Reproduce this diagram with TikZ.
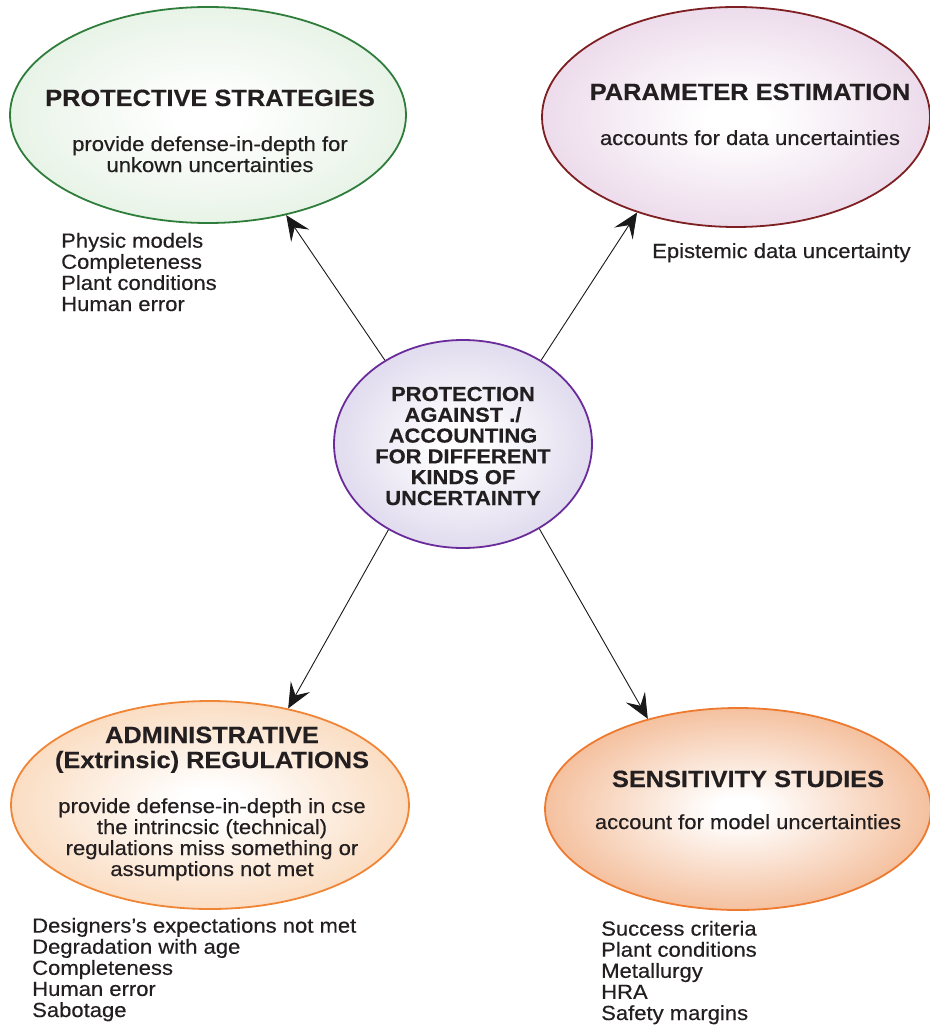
\documentclass[tikz,border=0pt]{standalone}
\usepackage{fontspec}
\setmainfont{Liberation Sans}[FakeStretch=1.08, UprightFeatures={FakeBold=0.35}, BoldFeatures={FakeBold=0.4}]
\usetikzlibrary{shapes.geometric,arrows.meta}
\definecolor{txt}{HTML}{231F20}
\definecolor{psfill}{HTML}{D8EBD6}
\definecolor{psline}{HTML}{2E7D3B}
\definecolor{pefill}{HTML}{E0C3DE}
\definecolor{peline}{HTML}{7E1F22}
\definecolor{cfill}{HTML}{CBC2E2}
\definecolor{cline}{HTML}{6A2C9A}
\definecolor{arfill}{HTML}{F7C598}
\definecolor{arline}{HTML}{F08536}
\definecolor{ssfill}{HTML}{EE9C66}
\definecolor{ssline}{HTML}{EE7A30}
\pgfdeclareradialshading{shps}{\pgfpoint{0bp}{0bp}}{color(0bp)=(white); color(4bp)=(white); color(40bp)=(psfill); color(50bp)=(psfill)}
\pgfdeclareradialshading{shpe}{\pgfpoint{0bp}{0bp}}{color(0bp)=(white); color(4bp)=(white); color(40bp)=(pefill); color(50bp)=(pefill)}
\pgfdeclareradialshading{shc}{\pgfpoint{0bp}{0bp}}{color(0bp)=(white); color(4bp)=(white); color(40bp)=(cfill); color(50bp)=(cfill)}
\pgfdeclareradialshading{shar}{\pgfpoint{0bp}{0bp}}{color(0bp)=(white); color(4bp)=(white); color(40bp)=(arfill); color(50bp)=(arfill)}
\pgfdeclareradialshading{shss}{\pgfpoint{0bp}{0bp}}{color(0bp)=(white); color(3bp)=(white); color(38bp)=(ssfill); color(50bp)=(ssfill)}
\tikzset{
  ell/.style={ellipse, inner sep=0pt, line width=1.8pt},
  ttl/.style={font=\bfseries\fontsize{23.5}{25}\selectfont, text=txt, align=center, anchor=base, inner sep=0pt},
  ctxt/.style={font=\bfseries\fontsize{20.3}{20.8}\selectfont, text=txt, align=center, anchor=base, inner sep=0pt},
  body/.style={font=\fontsize{20.4}{21}\selectfont, text=txt, align=center, anchor=base, inner sep=0pt},
  lst/.style={font=\fontsize{20.4}{21.1}\selectfont, text=txt, align=left, anchor=base west, inner sep=0pt},
  conn/.style={draw=black!90, line width=0.9pt, -{Stealth[length=25pt,width=22pt,inset=10pt]}}
}
\begin{document}
\begin{tikzpicture}[x=1pt,y=-1pt]
\useasboundingbox (0,0) rectangle (929,1027);
% ellipses
\node[ell, draw=psline, shading=shps, minimum width=396pt, minimum height=216pt] (ps) at (208,115) {};
\node[ell, draw=peline, shading=shpe, minimum width=388pt, minimum height=220pt] (pe) at (736,117) {};
\node[ell, draw=cline, shading=shc, minimum width=258pt, minimum height=208pt] (c) at (463,444) {};
\node[ell, draw=arline, shading=shar, minimum width=398pt, minimum height=208pt] (ar) at (210,805) {};
\node[ell, draw=ssline, shading=shss, minimum width=386pt, minimum height=202pt] (ss) at (738,809) {};
% connectors
\draw[conn] (c.133.6) -- (ps.-52.5);
\draw[conn] (c.47.5) -- (pe.-136);
\draw[conn] (c.-131.5) -- (ar.51);
\draw[conn] (c.-48.8) -- (ss.135.3);
% texts (multi-line nodes: base = last line's baseline)
\node[ttl] (pst) at (210,106) {PROTECTIVE STRATEGIES};
\node[body] (psb) at (210,172) {provide defense-in-depth for\\unkown uncertainties};
\node[lst] (psl) at (61,311) {Physic models\\Completeness\\Plant conditions\\Human error};
\node[ttl] (pet) at (750,100) {PARAMETER ESTIMATION};
\node[body] (peb) at (750,145) {accounts for data uncertainties};
\node[lst] (pel) at (652,258) {Epistemic data uncertainty};
\node[ctxt] (ct) at (463,505) {PROTECTION\\AGAINST ./\\ACCOUNTING\\FOR DIFFERENT\\KINDS OF\\UNCERTAINTY};
\node[ttl] (art) at (212,768) {ADMINISTRATIVE\\(Extrinsic) REGULATIONS};
\node[body] (arb) at (212,876) {provide defense-in-depth in cse\\the intrincsic (technical)\\regulations miss something or\\assumptions not met};
\node[lst] (arl) at (32,1017) {Designers’s expectations not met\\Degradation with age\\Completeness\\Human error\\Sabotage};
\node[ttl] (sst) at (748,787) {SENSITIVITY STUDIES};
\node[body] (ssb) at (748,829) {account for model uncertainties};
\node[lst] (ssl) at (601,1020) {Success criteria\\Plant conditions\\Metallurgy\\HRA\\Safety margins};
\end{tikzpicture}
\end{document}
